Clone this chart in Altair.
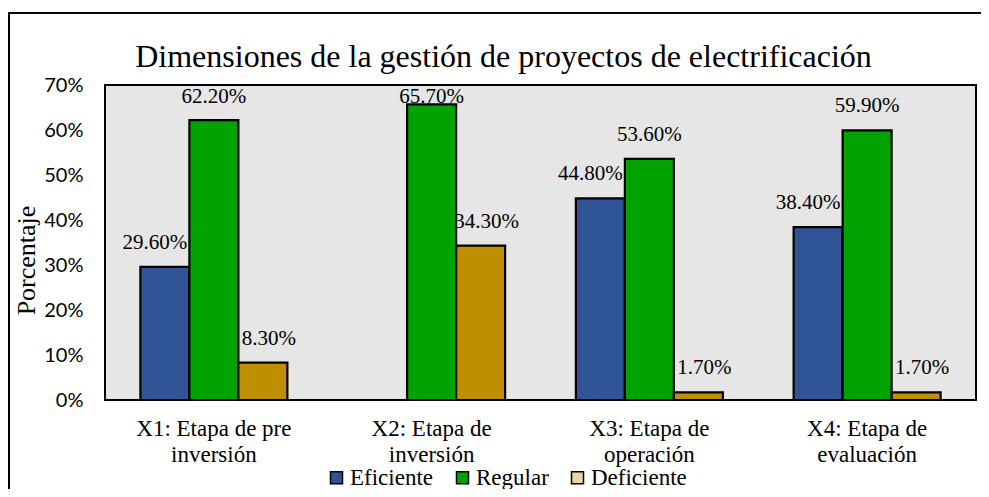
import altair as alt
import pandas as pd

titulo = "Dimensiones de la gestión de proyectos de electrificación"
categorias = [
    "X1: Etapa de pre inversión",
    "X2: Etapa de inversión",
    "X3: Etapa de operación",
    "X4: Etapa de evaluación",
]
series = ["Eficiente", "Regular", "Deficiente"]
eficiente = [29.6, 0.0, 44.8, 38.4]
regular = [62.2, 65.7, 53.6, 59.9]
deficiente = [8.3, 34.3, 1.7, 1.7]
y_ticks = [0, 10, 20, 30, 40, 50, 60, 70]

colores_barras = ["#2F5597", "#00A300", "#BF8F00"]
colores_leyenda = ["#2F5597", "#00A300", "#EBD7A5"]

rows = []
for i, c in enumerate(categorias):
    for s, vals in zip(series, [eficiente, regular, deficiente]):
        rows.append({"categoria": c, "serie": s, "valor": vals[i]})
df = pd.DataFrame(rows)

W, H = 871, 315
SERIF = "Times New Roman, Liberation Serif, DejaVu Serif, serif"

x_axis = alt.Axis(
    title=None,
    labelExpr="[slice(datum.label, 0, lastindexof(datum.label, ' ')), slice(datum.label, lastindexof(datum.label, ' ') + 1)]",
    labelAngle=0,
    labelFont=SERIF,
    labelFontSize=23,
    labelColor="black",
    labelLineHeight=26,
    labelPadding=17,
    labelBaseline="top",
    ticks=False,
    domain=False,
)
x_scale = alt.Scale(paddingInner=0.325, paddingOuter=0.1625)
y_scale = alt.Scale(domain=[0, 70], nice=False)
y_axis = alt.Axis(
    values=y_ticks,
    labelExpr="datum.value + '%'",
    grid=False,
    ticks=False,
    domain=False,
    labelFont="Lato",
    labelFontSize=20,
    labelColor="black",
    labelPadding=22,
    titleFont=SERIF,
    titleFontSize=26,
    titleFontWeight="normal",
    titleColor="black",
    titleAngle=-90,
    titleX=-79,
    titleY=175,
    titleAlign="center",
    titleBaseline="middle",
)


def xe():
    return alt.X("categoria:N", sort=categorias, scale=x_scale, axis=x_axis)


def xo():
    return alt.XOffset("serie:N", sort=series, scale=alt.Scale(domain=series, paddingInner=0, paddingOuter=0))


def ye(field):
    return alt.Y(field, scale=y_scale, axis=y_axis, title="Porcentaje")


base = alt.Chart(df)

bars = base.transform_filter("datum.valor > 0").mark_bar(stroke="black", strokeWidth=2.2).encode(
    x=xe(),
    xOffset=xo(),
    y=ye("valor:Q"),
    color=alt.Color("serie:N", scale=alt.Scale(domain=series, range=colores_barras), legend=None),
)

lab_base = base.transform_filter("datum.valor > 0").transform_calculate(
    etiqueta="format(datum.valor, '.2f') + '%'",
    ly="min(datum.valor, 62.0)",
)


def label_layer(serie, dx):
    return lab_base.transform_filter(alt.datum.serie == serie).mark_text(
        font=SERIF, fontSize=21, color="black", baseline="middle", dy=-24, dx=dx
    ).encode(x=xe(), xOffset=xo(), y=ye("ly:Q"), text="etiqueta:N")


core = alt.layer(
    bars,
    label_layer("Eficiente", -10),
    label_layer("Regular", 0),
    label_layer("Deficiente", 6),
)

legend_layer = base.transform_filter("datum.valor > 0").mark_square(
    size=0, filled=True, stroke="black", strokeWidth=1.5
).encode(
    x=xe(),
    xOffset=xo(),
    y=alt.Y("valor:Q", scale=y_scale, axis=y_axis, title="Porcentaje", stack=None),
    color=alt.Color(
        "serie:N",
        sort=series,
        scale=alt.Scale(domain=series, range=colores_leyenda),
        legend=alt.Legend(
            title=None,
            orient="none",
            legendX=220,
            legendY=381,
            direction="horizontal",
            symbolType="square",
            symbolSize=144,
            symbolStrokeColor="black",
            symbolStrokeWidth=1.5,
            symbolOpacity=1,
            labelFont=SERIF,
            labelFontSize=23,
            labelColor="black",
            labelOffset=2,
            columnPadding=17,
            padding=0,
        ),
    ),
)

frame = alt.Chart(pd.DataFrame({"a": [0]})).mark_rect(
    fillOpacity=0, stroke="black", strokeWidth=2, clip=False
).encode(
    x=alt.value(-96), x2=alt.value(W + 60), y=alt.value(-72), y2=alt.value(H + 150)
)

title_mark = alt.Chart(pd.DataFrame({"t": [titulo]})).mark_text(
    font=SERIF, fontSize=32, color="black", baseline="middle", align="center"
).encode(x=alt.value(W / 2 - 37), y=alt.value(-28), text="t:N")

chart = alt.layer(legend_layer, core, frame, title_mark).resolve_scale(
    color="independent"
).properties(
    width=W,
    height=H,
    autosize=alt.AutoSizeParams(type="none"),
    padding={"left": 97, "top": 77, "right": 5, "bottom": 89},
).configure_view(
    stroke="black", strokeWidth=2, fill="#E6E6E6"
)

chart.save("out.html", embed_options={"renderer": "svg", "actions": False})
